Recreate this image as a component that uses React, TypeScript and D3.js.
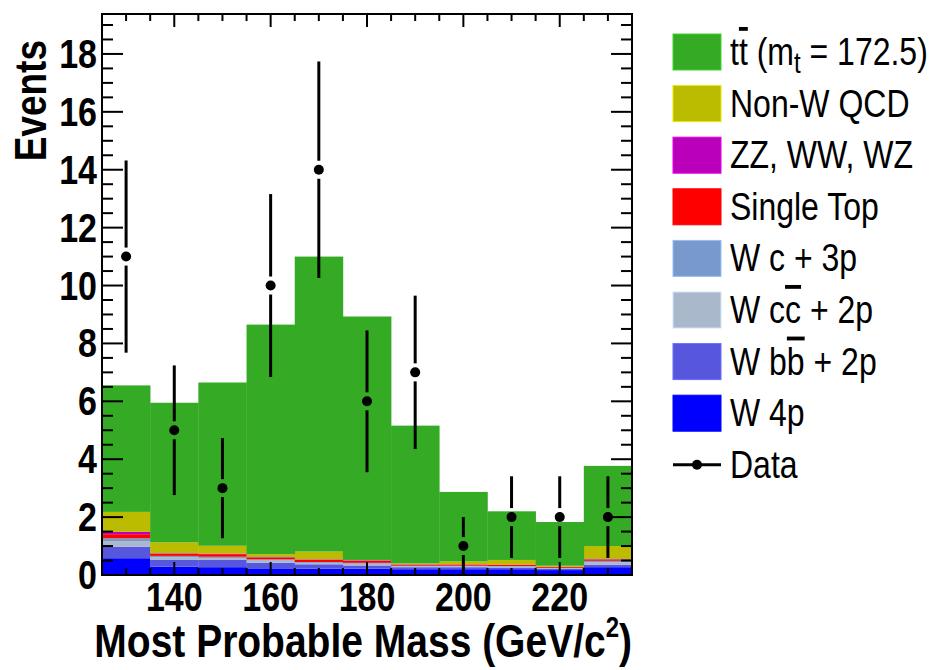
import React, { useRef, useEffect } from "react";
import * as d3 from "d3";

// bin centres (GeV/c^2), 10 GeV wide bins
const binCenters = [130, 140, 150, 160, 170, 180, 190, 200, 210, 220, 230];

// stacked backgrounds, bottom to top
const w4p = [0.58, 0.29, 0.27, 0.23, 0.22, 0.22, 0.2, 0.2, 0.2, 0.17, 0.27];
const wbb = [0.4, 0.23, 0.25, 0.19, 0.15, 0.11, 0.07, 0.07, 0.06, 0.04, 0.08];
const wcc = [0.19, 0.09, 0.07, 0.08, 0.05, 0.06, 0.03, 0.03, 0.03, 0.02, 0.09];
const wc = [0.1, 0.05, 0.04, 0.04, 0.03, 0.03, 0.02, 0.02, 0.02, 0.01, 0.05];
const singleTop = [0.14, 0.07, 0.09, 0.06, 0.07, 0.07, 0.04, 0.04, 0.04, 0.03, 0.04];
const diboson = [0.08, 0.02, 0.02, 0.02, 0.02, 0.02, 0.01, 0.01, 0.01, 0.01, 0.02];
const qcd = [0.69, 0.38, 0.27, 0.1, 0.27, 0.01, 0.03, 0.1, 0.16, 0.04, 0.45];
const ttbar = [4.37, 4.82, 5.64, 7.93, 10.19, 8.41, 4.76, 2.4, 1.68, 1.51, 2.77];

// data
const dataCounts = [11, 5, 3, 10, 14, 6, 7, 1, 2, 2, 2];
const dataErr = [3.32, 2.24, 1.73, 3.16, 3.74, 2.45, 2.65, 1.0, 1.41, 1.41, 1.41];

const xTicks = [140, 160, 180, 200, 220];
const yTicks = [0, 2, 4, 6, 8, 10, 12, 14, 16, 18];

const layers = [
  { key: "w4p", values: w4p, color: "#0000ff" },
  { key: "wbb", values: wbb, color: "#5757dd" },
  { key: "wcc", values: wcc, color: "#a9b9cb" },
  { key: "wc", values: wc, color: "#7899cc" },
  { key: "st", values: singleTop, color: "#ff0000" },
  { key: "vv", values: diboson, color: "#bb00bb" },
  { key: "qcd", values: qcd, color: "#bbbb00" },
  { key: "tt", values: ttbar, color: "#35aa25" },
];

// legend, top to bottom
const legendItems = [
  { key: "tt", color: "#35aa25" },
  { key: "qcd", color: "#bbbb00", text: "Non-W QCD" },
  { key: "vv", color: "#bb00bb", text: "ZZ, WW, WZ" },
  { key: "st", color: "#ff0000", text: "Single Top" },
  { key: "wc", color: "#7899cc", text: "W c + 3p" },
  { key: "wcc", color: "#a9b9cb" },
  { key: "wbb", color: "#5757dd" },
  { key: "w4p", color: "#0000ff", text: "W 4p" },
  { key: "data" },
];

const W = 933, H = 670;
const left = 102, right = 632, top = 14, bottom = 575;
const font = "Liberation Sans, Arial, Helvetica, sans-serif";
const stretch = 1.2; // glyphs in the original are taller than wide

const App = () => {
  const plot = useRef(null);

  useEffect(() => {
    const svg = d3.select(plot.current);
    svg.selectAll("*").remove();

    const x = d3.scaleLinear().domain([125, 235]).range([left, right]);
    const y = d3.scaleLinear().domain([0, 19.38]).range([bottom, top]);

    // stretched text helper
    const label = (parent, tx, ty, size, anchor, bold, rot = 0) =>
      parent.append("text")
        .attr("transform", `translate(${tx},${ty}) rotate(${rot}) scale(1,${stretch})`)
        .attr("text-anchor", anchor)
        .attr("font-family", font)
        .attr("font-weight", bold ? "bold" : "normal")
        .attr("font-size", size);

    // stack
    const rows = binCenters.map((c, i) => {
      const r = { c };
      layers.forEach(l => (r[l.key] = l.values[i]));
      return r;
    });
    const series = d3.stack().keys(layers.map(l => l.key))(rows);
    const colorOf = {};
    layers.forEach(l => (colorOf[l.key] = l.color));

    svg.append("g")
      .selectAll("g")
      .data(series)
      .join("g")
      .attr("fill", d => colorOf[d.key])
      .selectAll("rect")
      .data(d => d)
      .join("rect")
      .attr("x", d => x(d.data.c - 5))
      .attr("width", d => x(d.data.c + 5) - x(d.data.c - 5) + 0.3)
      .attr("y", d => y(d[1]))
      .attr("height", d => y(d[0]) - y(d[1]));

    // ticks (all four sides, inside)
    const g = svg.append("g").attr("stroke", "#000").attr("stroke-width", 2);
    d3.range(130, 235, 5).forEach(v => {
      const len = v % 20 === 0 ? 13 : 7;
      g.append("line").attr("x1", x(v)).attr("x2", x(v)).attr("y1", bottom).attr("y2", bottom - len);
      g.append("line").attr("x1", x(v)).attr("x2", x(v)).attr("y1", top).attr("y2", top + len);
    });
    d3.range(0, 19.4, 0.5).forEach(v => {
      const major = Math.abs(v % 2) < 1e-6;
      const len = major ? 21 : 11;
      g.append("line").attr("x1", left).attr("x2", left + len).attr("y1", y(v)).attr("y2", y(v));
      g.append("line").attr("x1", right).attr("x2", right - len).attr("y1", y(v)).attr("y2", y(v));
    });

    // frame
    svg.append("rect")
      .attr("x", left).attr("y", top)
      .attr("width", right - left).attr("height", bottom - top)
      .attr("fill", "none").attr("stroke", "#000").attr("stroke-width", 2);

    // tick labels
    xTicks.forEach(v => label(svg, x(v), 611, 34, "middle", true).text(v));
    yTicks.forEach(v => label(svg, 97, y(v) + 14, 34, "end", true).text(v));

    // axis titles
    label(svg, 46, 40, 37, "end", true, -90).text("Events");

    const xt = label(svg, right, 657, 39, "end", true);
    xt.append("tspan").text("Most Probable Mass (GeV/c");
    xt.append("tspan").attr("font-size", 24).attr("dy", -17).text("2");
    xt.append("tspan").attr("dy", 17).text(")");

    // data points
    const dg = svg.append("g").attr("stroke", "#000").attr("stroke-width", 3);
    const gap = 9;
    binCenters.forEach((c, i) => {
      const cx = x(c), cy = y(dataCounts[i]);
      const yHi = y(dataCounts[i] + dataErr[i]);
      const yLo = y(Math.max(0, dataCounts[i] - dataErr[i]));
      if (cy - gap > yHi) dg.append("line").attr("x1", cx).attr("x2", cx).attr("y1", yHi).attr("y2", cy - gap);
      if (cy + gap < yLo) dg.append("line").attr("x1", cx).attr("x2", cx).attr("y1", cy + gap).attr("y2", yLo);
      dg.append("circle").attr("cx", cx).attr("cy", cy).attr("r", 5).attr("fill", "#000").attr("stroke", "none");
    });

    // legend
    const lx = 673, ly0 = 34, step = 51.6, bw = 48, bh = 36, tx = 730;
    const lg = svg.append("g");
    legendItems.forEach((it, i) => {
      const yy = ly0 + i * step;
      const mid = yy + bh / 2;
      if (it.key === "data") {
        lg.append("line").attr("x1", lx).attr("x2", lx + bw).attr("y1", mid).attr("y2", mid).attr("stroke", "#000").attr("stroke-width", 3);
        lg.append("circle").attr("cx", lx + bw / 2).attr("cy", mid).attr("r", 5).attr("fill", "#000");
      } else {
        lg.append("rect").attr("x", lx).attr("y", yy).attr("width", bw).attr("height", bh)
          .attr("fill", it.color).attr("stroke", d3.color(it.color).brighter(0.6)).attr("stroke-width", 1);
      }
      const t = label(lg, tx, mid + 13, 32, "start", false);
      if (it.key === "tt") {
        t.append("tspan").text("t");
        t.append("tspan").attr("text-decoration", "overline").text("t");
        t.append("tspan").text(" (m");
        t.append("tspan").attr("font-size", 24).attr("dy", 7).text("t");
        t.append("tspan").attr("dy", -7).text(" = 172.5)");
      } else if (it.key === "wcc") {
        t.append("tspan").text("W c");
        t.append("tspan").attr("text-decoration", "overline").text("c");
        t.append("tspan").text(" + 2p");
      } else if (it.key === "wbb") {
        t.append("tspan").text("W b");
        t.append("tspan").attr("text-decoration", "overline").text("b");
        t.append("tspan").text(" + 2p");
      } else if (it.key === "data") {
        t.text("Data");
      } else {
        t.text(it.text);
      }
    });
  });

  return (
    <svg ref={plot} width={W} height={H} style={{ position: "absolute", left: 0, top: 0, background: "#fff" }} />
  );
};

export default App;
